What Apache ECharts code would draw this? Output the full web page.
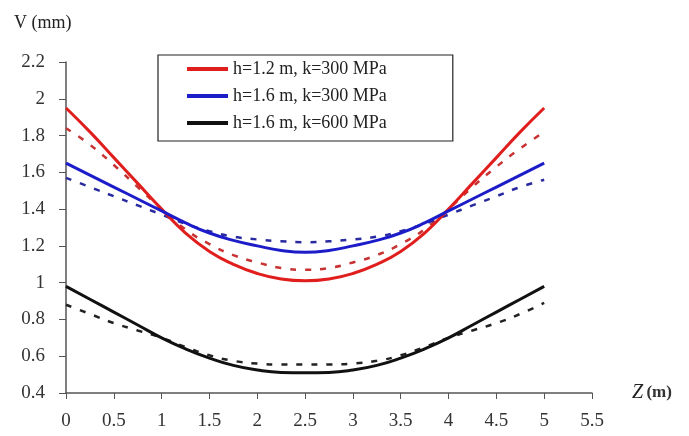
<!DOCTYPE html>
<html><head><meta charset="utf-8">
<script src="https://cdn.jsdelivr.net/npm/echarts@6/dist/echarts.min.js"></script>
<style>html,body{margin:0;padding:0;background:#fff}#c{width:689px;height:436px}</style>
</head><body><div id="c"></div>
<script>
// z positions (m)
const zValues = [0,0.25,0.5,0.75,1,1.25,1.5,1.75,2,2.25,2.5,2.75,3,3.25,3.5,3.75,4,4.25,4.5,4.75,5];
const xTicks = ['0','0.5','1','1.5','2','2.5','3','3.5','4','4.5','5','5.5'];
const yTicks = ['0.4','0.6','0.8','1','1.2','1.4','1.6','1.8','2','2.2'];
const seriesNames = ['h=1.2 m, k=300 MPa','h=1.6 m, k=300 MPa','h=1.6 m, k=600 MPa'];
// solid curves
const redSolid   = [1.95,1.82,1.68,1.54,1.40,1.27,1.17,1.10,1.05,1.02,1.01,1.02,1.05,1.10,1.17,1.27,1.40,1.54,1.68,1.82,1.95];
const blueSolid  = [1.65,1.585,1.52,1.455,1.39,1.325,1.27,1.23,1.20,1.175,1.165,1.175,1.20,1.23,1.27,1.325,1.39,1.455,1.52,1.585,1.65];
const blackSolid = [0.98,0.91,0.84,0.77,0.70,0.64,0.59,0.55,0.525,0.512,0.51,0.512,0.525,0.55,0.59,0.64,0.70,0.77,0.84,0.91,0.98];
// dashed curves
const redDashed   = [1.84,1.75,1.64,1.52,1.40,1.29,1.21,1.15,1.11,1.08,1.07,1.08,1.11,1.15,1.21,1.29,1.40,1.52,1.63,1.73,1.82];
const blueDashed  = [1.57,1.52,1.47,1.42,1.37,1.32,1.28,1.25,1.235,1.225,1.22,1.225,1.235,1.25,1.28,1.32,1.37,1.42,1.47,1.52,1.56];
const blackDashed = [0.88,0.83,0.78,0.74,0.70,0.65,0.605,0.575,0.56,0.555,0.555,0.555,0.56,0.575,0.605,0.65,0.70,0.74,0.78,0.83,0.89];

const pair = arr => zValues.map((z,i)=>[z,arr[i]]);
const font = '"Liberation Serif", "DejaVu Serif", serif';
const chart = echarts.init(document.getElementById('c'));
function solid(name, data, color){
  return {name, type:'line', data:pair(data), symbol:'none', showSymbol:false, smooth:0.5, z:3,
    lineStyle:{color, width:3}, itemStyle:{color}};
}
function dashed(name, data, color){
  return {name, type:'line', data:pair(data), symbol:'none', showSymbol:false, smooth:0.5, z:2,
    lineStyle:{color, width:2.5, type:[6,9]}, itemStyle:{color}};
}
chart.setOption({
  animation:false,
  backgroundColor:'#fff',
  grid:{left:66,right:97,top:62,bottom:43,containLabel:false},
  xAxis:{type:'value',min:0,max:5.5,interval:0.5,
    name:'{z|Z} {u|(m)}',nameLocation:'end',nameGap:40,
    nameTextStyle:{verticalAlign:'middle',
      rich:{z:{fontFamily:font,fontSize:20,fontStyle:'italic',color:'#222'},
            u:{fontFamily:font,fontSize:17,fontWeight:'bold',color:'#333'}}},
    axisLine:{lineStyle:{color:'#555',width:1.5}},
    axisTick:{show:true,length:6,lineStyle:{color:'#555'}},
    splitLine:{show:false},
    axisLabel:{fontFamily:font,fontSize:19,color:'#333',margin:19,
      formatter:v=>{const s=String(v);return xTicks.includes(s)?s:'';}}},
  yAxis:{type:'value',min:0.4,max:2.2,interval:0.2,
    axisLine:{show:true,lineStyle:{color:'#555',width:1.5}},
    axisTick:{show:true,length:7,lineStyle:{color:'#555'}},
    splitLine:{show:false},
    axisLabel:{fontFamily:font,fontSize:19,color:'#333',margin:21,
      formatter:v=>{const s=String(Math.round(v*10)/10);return yTicks.includes(s)?s:'';}}},
  graphic:[{type:'text',left:14,top:14,style:{text:'V (mm)',font:'18px '+font,fill:'#222'}}],
  legend:{data:seriesNames,orient:'vertical',left:158,top:55,
    icon:'rect',itemWidth:41,itemHeight:4,itemGap:9,padding:[5,66,9,29],
    borderColor:'#222',borderWidth:1.2,backgroundColor:'#fff',
    textStyle:{fontFamily:font,fontSize:18,color:'#222'}},
  series:[
    solid(seriesNames[0],redSolid,'#e01e1e'),
    solid(seriesNames[1],blueSolid,'#1c1cc8'),
    solid(seriesNames[2],blackSolid,'#111111'),
    dashed('d1',redDashed,'#c83232'),
    dashed('d2',blueDashed,'#2a2aa0'),
    dashed('d3',blackDashed,'#222222')
  ]
});
</script></body></html>
